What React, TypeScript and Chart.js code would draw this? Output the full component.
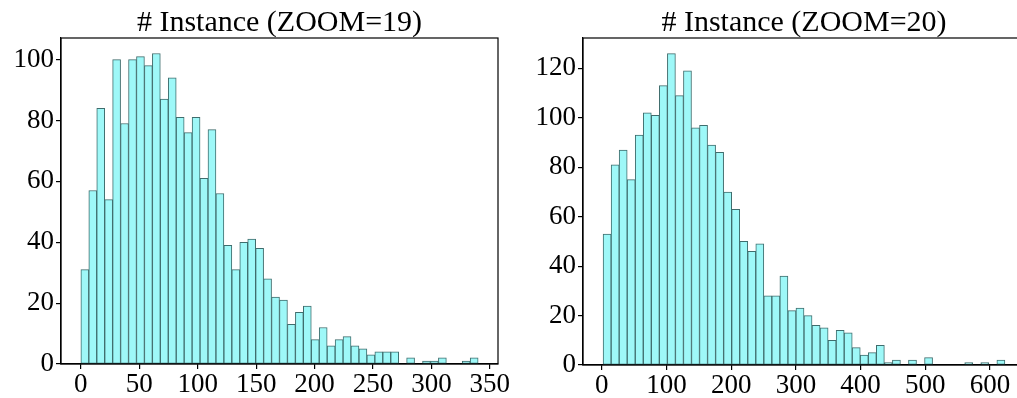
import React, { useEffect, useRef } from 'react';
import { Chart, registerables } from 'chart.js';

Chart.register(...registerables);

// ---- data ----
const leftTitle = '# Instance (ZOOM=19)';
const rightTitle = '# Instance (ZOOM=20)';

const leftCounts = [
  31, 57, 84, 54, 100, 79, 100, 101, 98, 102,
  87, 94, 81, 76, 81, 61, 77, 56, 39, 31,
  40, 41, 38, 28, 22, 21, 13, 17, 19, 8,
  12, 6, 8, 9, 6, 5, 3, 4, 4, 4,
  0, 2, 0, 1, 1, 2, 0, 0, 1, 2,
];
const leftBinStart = 0;
const leftBinWidth = 6.8;
const leftXTicks = [0, 50, 100, 150, 200, 250, 300, 350];
const leftYTicks = [0, 20, 40, 60, 80, 100];

const rightCounts = [
  53, 81, 87, 75, 93, 102, 101, 113, 126, 109,
  119, 96, 97, 89, 86, 70, 63, 50, 46, 49,
  28, 28, 36, 22, 23, 20, 16, 15, 10, 14,
  13, 7, 4, 5, 8, 1, 2, 0, 2, 0,
  3, 0, 0, 0, 0, 1, 0, 1, 0, 2,
];
const rightBinStart = 2;
const rightBinWidth = 12.42;
const rightXTicks = [0, 100, 200, 300, 400, 500, 600];
const rightYTicks = [0, 20, 40, 60, 80, 100, 120];

// ---- styles ----
const SERIF = '"Liberation Serif", "Times New Roman", serif';
const FILL = '#9ef8f8';
const EDGE = '#3f6d6d';

const framePlugin = {
  id: 'frame',
  afterDraw(chart: any) {
    const { ctx, chartArea } = chart;
    const { left, top, right, bottom } = chartArea;
    ctx.save();
    ctx.strokeStyle = '#000';
    ctx.lineWidth = 1.2;
    ctx.strokeRect(left, top, right - left, bottom - top);
    ctx.restore();
  },
};

type PanelProps = {
  title: string;
  counts: number[];
  binStart: number;
  binWidth: number;
  xTicks: number[];
  yTicks: number[];
  left: number;
  width: number;
  yAxisWidth: number;
  padRight: number;
  xAxisHeight: number;
};

function Panel(p: PanelProps) {
  const ref = useRef<HTMLCanvasElement | null>(null);
  useEffect(() => {
    if (!ref.current) return;
    const n = p.counts.length;
    const lo = p.binStart;
    const hi = p.binStart + n * p.binWidth;
    const margin = 0.05 * (hi - lo);
    const ymax = Math.max(...p.counts) * 1.05;
    const points = p.counts.map((c, i) => ({ x: p.binStart + (i + 0.5) * p.binWidth, y: c }));

    const tickFont = { family: SERIF, size: 27 };
    const gridOpts = {
      display: true,
      offset: false,
      drawOnChartArea: false,
      drawTicks: true,
      tickLength: 5,
      color: '#000',
      lineWidth: 1.2,
    };

    const chart = new Chart(ref.current, {
      type: 'bar',
      data: {
        datasets: [
          {
            data: points as any,
            backgroundColor: FILL,
            borderColor: EDGE,
            borderWidth: 1,
            borderSkipped: false,
            barPercentage: 1,
            categoryPercentage: 1,
          } as any,
        ],
      },
      options: {
        animation: false,
        responsive: false,
        events: [],
        layout: { padding: { left: 0, right: p.padRight, top: 0, bottom: 0 } },
        plugins: {
          legend: { display: false },
          tooltip: { enabled: false },
          title: {
            display: true,
            text: p.title,
            fullSize: false,
            color: '#000',
            font: { family: SERIF, size: 30, weight: 'normal', lineHeight: 1 },
            padding: { top: 8, bottom: 0 },
          },
        },
        scales: {
          x: {
            type: 'linear',
            min: lo - margin,
            max: hi + margin,
            offset: false,
            grid: gridOpts,
            border: { display: true, color: '#000', width: 1.2 },
            ticks: { color: '#000', font: tickFont, padding: 0, maxRotation: 0, autoSkip: false },
            afterBuildTicks: (ax: any) => {
              ax.ticks = p.xTicks.map((v) => ({ value: v }));
            },
            afterFit: (ax: any) => {
              ax.height = p.xAxisHeight;
            },
          },
          y: {
            type: 'linear',
            min: 0,
            max: ymax,
            grid: gridOpts,
            border: { display: true, color: '#000', width: 1.2 },
            ticks: { color: '#000', font: tickFont, padding: 2, autoSkip: false },
            afterBuildTicks: (ax: any) => {
              ax.ticks = p.yTicks.map((v) => ({ value: v }));
            },
            afterFit: (ax: any) => {
              ax.width = p.yAxisWidth;
            },
          },
        },
      } as any,
      plugins: [framePlugin],
    });
    return () => chart.destroy();
  }, []);

  return (
    <canvas
      ref={ref}
      width={p.width}
      height={398}
      style={{ position: 'absolute', left: p.left, top: 0, width: p.width, height: 398 }}
    />
  );
}

export default function App() {
  return (
    <div
      style={{
        position: 'absolute',
        left: 0,
        top: 0,
        width: 1017,
        height: 398,
        overflow: 'hidden',
        background: '#fff',
      }}
    >
      <Panel
        title={leftTitle}
        counts={leftCounts}
        binStart={leftBinStart}
        binWidth={leftBinWidth}
        xTicks={leftXTicks}
        yTicks={leftYTicks}
        left={0}
        width={522}
        yAxisWidth={61}
        padRight={24}
        xAxisHeight={34}
      />
      <Panel
        title={rightTitle}
        counts={rightCounts}
        binStart={rightBinStart}
        binWidth={rightBinWidth}
        xTicks={rightXTicks}
        yTicks={rightYTicks}
        left={522}
        width={520}
        yAxisWidth={61}
        padRight={17}
        xAxisHeight={33}
      />
    </div>
  );
}
